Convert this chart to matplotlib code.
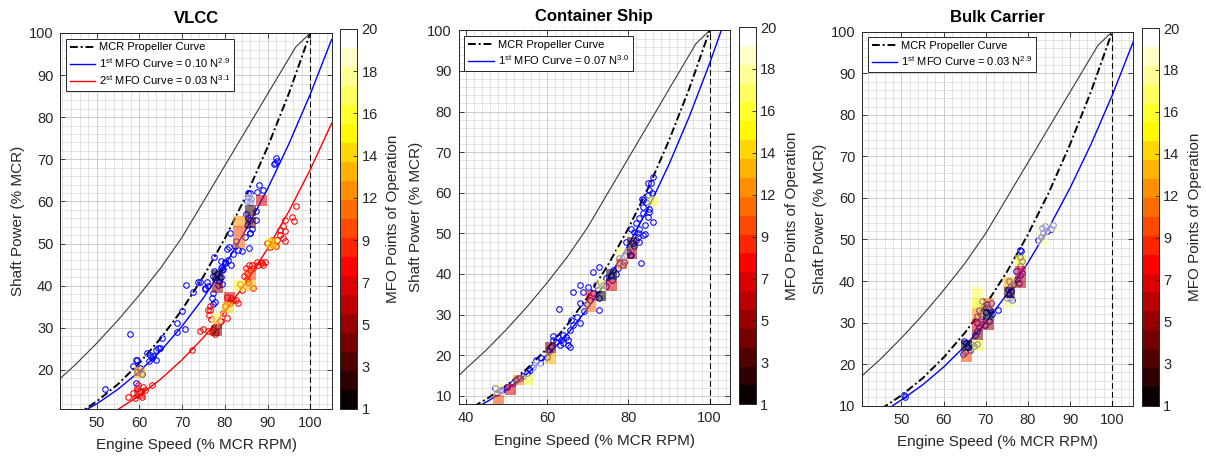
import numpy as np
import matplotlib
matplotlib.use('Agg')
import matplotlib.pyplot as plt
from matplotlib.patches import Rectangle
from matplotlib.collections import PatchCollection
from matplotlib.colors import Normalize
from matplotlib.cm import ScalarMappable
from matplotlib.ticker import MultipleLocator

plt.rcParams['font.family'] = ['Liberation Sans', 'DejaVu Sans']
plt.rcParams['mathtext.fontset'] = 'custom'
plt.rcParams['mathtext.rm'] = 'Liberation Sans'
plt.rcParams['mathtext.it'] = 'Liberation Sans:italic'

# engine envelope (grey) and MCR propeller curve, shared by all panels
env_n = [38.3, 40, 45, 50, 55, 60, 65, 70, 75, 80, 85, 90, 96.6, 100, 105]
env_p = [14.9, 16.6, 21.2, 26.3, 31.8, 37.8, 44.2, 51.5, 60.0, 68.5, 77.0, 85.5, 96.7, 100, 100]
mcr_n = [42, 45, 50, 55, 60, 65, 70, 75, 80, 85, 90, 95, 100]
mcr_p = [7.4, 9.1, 12.5, 16.6, 21.6, 27.5, 34.3, 42.2, 51.2, 61.4, 72.9, 85.7, 100]

# ---- VLCC ----
vlcc_mfo1_n = [47, 50, 55, 60, 65, 70, 75, 80, 85, 90, 95, 100, 105]
vlcc_mfo1_p = [10.2, 11.9, 15.4, 19.6, 24.5, 30.4, 37.1, 44.8, 53.4, 63.0, 73.7, 85.5, 98.5]
vlcc_mfo2_n = [55, 60, 65, 70, 75, 80, 85, 90, 95, 100, 105]
vlcc_mfo2_p = [10.6, 13.9, 17.8, 22.4, 27.7, 33.8, 40.8, 48.8, 57.7, 67.6, 78.6]

vlcc_pts1_n = [91.9, 92.2, 91.7, 91.4,
               88.0, 88.9, 87.5, 85.8, 85.4, 85.5, 85.2, 87.4, 87.2,
               86.2, 85.9,
               85.0, 85.5, 86.0, 85.2, 86.3, 85.8, 84.8, 86.0, 85.7,
               81.1, 81.0, 80.6, 81.9, 80.1, 81.5, 79.2, 79.4, 79.0, 79.5, 82.5, 83.0, 82.3, 83.9,
               77.5, 78.2, 79.0, 77.8, 78.6, 79.3, 77.3, 77.5,
               75.3, 76.1, 73.7, 79.4, 77.2, 76.9, 77.6, 77.2, 72.6, 70.8, 69.9, 70.6, 68.8, 68.9,
               74.1, 75.8, 75.3, 78.4, 78.8, 80.0, 80.8,
               65.3, 64.4, 64.0, 61.7, 62.5, 63.0, 63.8, 62.2, 64.8, 63.1,
               59.5, 59.1, 57.8, 52.0, 58.6, 60.2, 59.5, 60.5, 59.3]
vlcc_pts1_p = [70.4, 69.6, 69.2, 69.0,
               64.0, 62.7, 62.2, 61.9, 62.1, 61.0, 60.1, 57.8, 55.5,
               60.5, 59.8,
               57.0, 56.0, 55.5, 54.5, 53.5, 52.5, 51.5, 52.4, 49.0,
               52.4, 49.2, 48.6, 47.4, 45.4, 45.0, 45.8, 44.5, 44.1, 43.9, 50.5, 48.5, 49.5, 48.2,
               43.5, 42.8, 42.0, 41.5, 41.0, 43.6, 42.2, 46.8,
               39.4, 39.8, 40.9, 40.5, 38.2, 37.1, 36.2, 35.7, 38.4, 40.1, 34.0, 29.7, 29.1, 31.1,
               40.8, 40.8, 39.2, 40.2, 41.8, 45.5, 46.2,
               27.5, 25.1, 24.6, 24.1, 23.5, 22.8, 22.3, 22.0, 25.1, 23.2,
               22.4, 16.8, 28.6, 15.4, 20.8, 20.5, 19.5, 19.0, 22.4]
vlcc_pts2_n = [96.7, 95.8, 96.1, 94.0, 93.6, 92.8, 94.0, 92.8, 93.6, 92.1, 94.0, 91.3, 89.8, 90.5, 91.0, 92.0,
               85.1, 85.8, 86.6, 87.8, 88.6, 89.3, 88.9, 84.9, 85.6, 86.3, 87.5, 88.4, 84.5, 85.2, 83.5, 84.0, 86.5, 85.5,
               80.4, 81.5, 82.7, 83.1, 81.1, 80.0, 79.6, 80.4, 79.2, 81.9,
               76.1, 76.6, 74.1, 76.1, 76.9, 76.5, 76.4, 76.7, 74.9, 77.2, 78.4, 78.8, 78.0, 77.8,
               72.2,
               57.4, 58.6, 59.4, 60.1, 60.5, 58.9, 60.9, 59.7, 62.9, 61.3]
vlcc_pts2_p = [58.9, 56.2, 55.3, 55.7, 54.1, 53.3, 52.9, 52.1, 51.3, 50.9, 50.5, 49.7, 50.1, 49.2, 50.8, 49.5,
               43.0, 43.8, 44.2, 45.0, 45.4, 45.5, 45.0, 44.3, 44.8, 44.9, 45.6, 45.6, 42.3, 41.5, 40.5, 39.0, 39.5, 40.8,
               37.4, 37.1, 36.7, 35.9, 35.9, 35.1, 33.5, 32.3, 31.5, 36.5,
               34.3, 35.1, 29.3, 29.3, 29.1, 34.3, 33.1, 32.1, 29.7, 29.5, 30.3, 31.5, 29.0, 28.5,
               24.7,
               13.6, 14.4, 15.6, 14.8, 13.6, 13.2, 16.0, 16.4, 16.4, 15.2]
vlcc_bin_n = [88.5, 86.0, 85.9, 86.1, 83.3, 83.3, 83.3, 91.0, 78.2, 78.2, 81.0, 80.7, 78.1, 78.1, 83.3, 86.0, 86.0, 60.0, 60.0]
vlcc_bin_p = [60.2, 60.5, 57.8, 55.1, 55.3, 52.8, 50.3, 50.1, 42.4, 39.6, 37.2, 34.7, 32.1, 29.4, 40.0, 40.0, 42.6, 19.4, 14.3]
vlcc_bin_c = [7, 19, 2, 3, 12, 10, 11, 15, 1, 5, 7, 14, 17, 4, 16, 13, 10, 13, 7]

# ---- Container ship ----
cont_mfo_n = [43, 45, 50, 55, 60, 65, 70, 75, 80, 85, 90, 95, 100, 103]
cont_mfo_p = [7.3, 8.4, 11.5, 15.3, 19.9, 25.2, 31.5, 38.8, 47.1, 56.4, 67.0, 78.8, 91.9, 100.4]
cont_pts_n = [86.0, 85.6, 85.2, 85.9, 84.8, 83.5, 84.4, 83.5, 84.8, 83.4,
              86.0, 84.8, 85.2, 83.5, 82.7, 81.9, 82.7, 81.5, 80.7,
              84.0, 82.3, 81.1, 80.3, 83.5, 82.7, 81.9, 80.7, 79.5,
              83.1, 79.5, 77.8, 78.6, 77.4, 76.2, 75.8, 74.6, 73.7, 72.5, 71.3,
              72.9, 72.1, 70.1, 68.8, 71.3, 72.9, 72.9, 68.0, 66.4, 68.0,
              62.9, 61.5, 62.7, 63.9, 64.8, 63.5, 65.2, 62.3, 63.9, 65.2, 65.6, 61.5, 63.1,
              66.0, 66.4, 65.6, 68.0,
              59.9, 58.6, 57.4, 58.2, 56.6, 55.8, 55.0, 54.1, 53.3, 52.5, 51.7, 50.1, 48.4, 47.6, 47.2, 49.0, 60.5, 61.0,
              69.0, 69.8, 67.5, 70.5, 74.5, 76.0, 77.0, 79.0, 80.0, 81.5, 82.5, 84.0, 85.0]
cont_pts_p = [64.0, 62.3, 60.7, 59.9, 59.5, 58.2, 57.8, 56.6, 62.5, 58.4,
              52.9, 54.1, 55.3, 54.9, 53.7, 52.5, 51.2, 50.4, 51.2,
              49.8, 49.2, 47.6, 44.7, 49.6, 47.9, 48.4, 44.7, 47.9,
              42.6, 44.7, 43.9, 42.2, 41.4, 41.0, 39.8, 39.0, 37.3, 36.1, 35.2,
              34.0, 37.3, 36.9, 35.6, 40.6, 41.8, 31.1, 37.3, 35.6, 32.8,
              31.4, 24.7, 24.5, 24.9, 24.4, 23.7, 23.7, 23.3, 22.9, 22.5, 22.1, 23.7, 22.5,
              28.7, 27.4, 26.2, 27.9,
              19.6, 19.2, 18.8, 18.0, 17.2, 16.4, 15.6, 14.8, 14.3, 13.9, 13.1, 12.2, 11.4, 10.6, 12.0, 11.5, 21.0, 22.0,
              31.0, 32.5, 29.5, 33.5, 37.0, 38.5, 40.0, 43.0, 45.5, 47.0, 50.0, 52.0, 56.0]
cont_bin_n = [85.9, 80.9, 80.9, 78.3, 78.3, 75.8, 75.8, 73.3, 73.3, 70.8, 70.8, 60.8, 60.8, 55.6, 53.0, 57.8, 51.0, 48.1, 48.1]
cont_bin_p = [58.0, 47.7, 45.1, 45.1, 42.5, 39.9, 37.2, 37.2, 34.6, 34.6, 32.0, 21.9, 19.2, 13.9, 13.9, 17.2, 11.6, 11.6, 9.0]
cont_bin_c = [16, 2, 5, 18, 11, 1, 7, 17, 1, 7, 11, 4, 13, 16, 11, 20, 7, 18, 10]

# ---- Bulk carrier ----
bulk_mfo_n = [47.9, 50, 55, 60, 65, 70, 75, 80, 85, 90, 95, 100, 105]
bulk_mfo_p = [10.0, 11.4, 15.0, 19.3, 24.3, 30.1, 36.8, 44.4, 52.9, 62.4, 73.0, 84.7, 97.6]
bulk_pts_n = [50.6, 50.9,
              64.8, 65.3, 65.8, 66.2, 65.0, 64.6, 66.4, 67.9, 67.3,
              67.5, 68.0, 68.4, 67.8, 68.8, 69.2, 70.0, 70.5, 69.5, 70.2, 71.0, 71.5, 70.8, 69.8, 68.5, 67.8, 71.2, 69.0,
              72.9,
              75.0, 75.5, 76.0, 75.8, 76.5, 75.2, 76.2, 75.6, 75.7,
              77.5, 78.0, 77.2, 78.2, 78.5, 78.0, 77.8, 78.6, 78.2, 78.4,
              82.5, 83.0, 83.5, 83.3, 84.0, 85.5, 86.0, 84.5]
bulk_pts_p = [12.6, 12.2,
              25.5, 25.0, 24.2, 23.5, 23.0, 22.5, 24.8, 24.8, 24.3,
              27.0, 28.0, 29.0, 30.0, 30.8, 31.5, 32.5, 33.5, 34.0, 34.5, 33.0, 32.0, 30.5, 29.5, 33.0, 31.5, 34.8, 35.2,
              33.0,
              36.0, 36.8, 37.5, 38.5, 39.2, 38.0, 35.5, 40.0, 35.8,
              40.5, 41.5, 42.5, 43.5, 44.8, 45.8, 39.5, 42.0, 47.4, 47.2,
              49.8, 50.5, 51.5, 52.8, 53.2, 52.6, 53.5, 52.0]
bulk_bin_n = [65.5, 65.5, 68.1, 68.1, 68.1, 68.1, 68.1, 68.1, 70.7, 70.7, 70.7, 75.6, 75.6, 75.6, 78.3, 78.3, 78.3, 83.4, 83.4, 86.0]
bulk_bin_p = [24.4, 21.8, 37.3, 34.7, 32.2, 29.6, 27.0, 24.4, 34.6, 32.0, 29.4, 39.7, 37.2, 34.7, 44.9, 42.3, 39.7, 52.6, 50.0, 53.0]
bulk_bin_c = [1, 10, 17, 15, 12, 7, 4, 16, 11, 1, 5, 13, 2, 18, 15, 8, 6, 19, 18, 19]

cmap = plt.get_cmap('hot').resampled(20)
norm = Normalize(1, 20)
txt = '#262626'


def draw_panel(ax, cax, title, xlim, ylim, xticks, yticks, mfo_curves, point_sets, bins, legend_labels):
    ax.set_axisbelow(True)
    ax.plot(env_n, env_p, color='#3a3a3a', lw=0.8)
    ax.axvline(100, color='k', lw=0.8, ls=(0, (5, 3)))
    h_mcr, = ax.plot(mcr_n, mcr_p, color='k', lw=1.4, ls=(0, (4, 1.5, 1, 1.5)))
    handles = [h_mcr]
    for (n, p), col in mfo_curves:
        h, = ax.plot(n, p, color=col, lw=1.0)
        handles.append(h)
    for (n, p), col in point_sets:
        ax.plot(n, p, 'o', ms=4.0, mfc='none', mec=col, mew=0.75)
    # binned operating points drawn over the circles
    bn, bp, bc = bins
    rects = [Rectangle((x - 1.3, y - 1.3), 2.6, 2.6) for x, y in zip(bn, bp)]
    pc = PatchCollection(rects, cmap=cmap, norm=norm, alpha=0.55, edgecolor='none', zorder=3)
    pc.set_array(np.array(bc, dtype=float))
    ax.add_collection(pc)

    ax.set_xlim(xlim)
    ax.set_ylim(ylim)
    ax.set_xticks(xticks)
    ax.set_yticks(yticks)
    ax.xaxis.set_minor_locator(MultipleLocator(2))
    ax.yaxis.set_minor_locator(MultipleLocator(2))
    ax.grid(which='major', color='#c4c4c4', lw=0.6)
    ax.grid(which='minor', color='#dedede', lw=0.6)
    ax.tick_params(which='major', direction='in', top=True, right=True, length=3.5,
                   width=0.6, labelsize=10.5, colors=txt, pad=5)
    ax.tick_params(which='minor', length=0)
    for s in ax.spines.values():
        s.set_color(txt)
        s.set_linewidth(0.7)
    ax.set_title(title, fontsize=12, fontweight='bold', color='k', pad=7)
    ax.set_xlabel('Engine Speed (% MCR RPM)', fontsize=11, color=txt, labelpad=6)
    ax.set_ylabel('Shaft Power (% MCR)', fontsize=11, color=txt, labelpad=3)
    leg = ax.legend(handles, legend_labels, loc='upper left', fontsize=8.0, handlelength=2.3,
                    borderpad=0.35, labelspacing=0.3, handletextpad=0.35, borderaxespad=0.5,
                    fancybox=False, framealpha=1)
    leg.get_frame().set_edgecolor(txt)
    leg.get_frame().set_linewidth(0.7)
    leg.set_zorder(5)

    sm = ScalarMappable(norm=norm, cmap=cmap)
    cb = plt.colorbar(sm, cax=cax, ticks=np.linspace(1, 20, 10))
    cb.set_ticklabels([f'{t:.0f}' for t in np.linspace(1, 20, 10)])
    cb.ax.tick_params(direction='in', length=3, width=0.6, labelsize=10.5, colors=txt)
    cb.outline.set_edgecolor(txt)
    cb.outline.set_linewidth(0.7)
    cb.set_label('MFO Points of Operation', fontsize=11, color=txt, labelpad=6)


fig = plt.figure(figsize=(12.06, 4.59), dpi=100)
W, H = 1206, 459


def box(l, r, t, b):
    return [l / W, (H - b) / H, (r - l) / W, (b - t) / H]


ax1 = fig.add_axes(box(60.3, 331.7, 33, 409))
cax1 = fig.add_axes(box(340, 356.7, 29, 409))
ax2 = fig.add_axes(box(458.7, 730, 30.4, 404.3))
cax2 = fig.add_axes(box(739, 755.5, 27, 404.3))
ax3 = fig.add_axes(box(862.3, 1133.3, 31.7, 405.7))
cax3 = fig.add_axes(box(1142.3, 1158.5, 28, 405.7))

draw_panel(ax1, cax1, 'VLCC', (41.5, 105), (10.7, 100), range(50, 101, 10), range(20, 101, 10),
           [((vlcc_mfo1_n, vlcc_mfo1_p), 'b'), ((vlcc_mfo2_n, vlcc_mfo2_p), 'r')],
           [((vlcc_pts1_n, vlcc_pts1_p), 'b'), ((vlcc_pts2_n, vlcc_pts2_p), 'r')],
           (vlcc_bin_n, vlcc_bin_p, vlcc_bin_c),
           ['MCR Propeller Curve', r'1$^{\mathrm{st}}$ MFO Curve = 0.10 N$^{2.9}$',
            r'2$^{\mathrm{st}}$ MFO Curve = 0.03 N$^{3.1}$'])
draw_panel(ax2, cax2, 'Container Ship', (38.3, 105), (7.9, 100), range(40, 101, 20), range(10, 101, 10),
           [((cont_mfo_n, cont_mfo_p), 'b')],
           [((cont_pts_n, cont_pts_p), 'b')],
           (cont_bin_n, cont_bin_p, cont_bin_c),
           ['MCR Propeller Curve', r'1$^{\mathrm{st}}$ MFO Curve = 0.07 N$^{3.0}$'])
draw_panel(ax3, cax3, 'Bulk Carrier', (40.7, 105), (10, 100), range(50, 101, 10), range(10, 101, 10),
           [((bulk_mfo_n, bulk_mfo_p), 'b')],
           [((bulk_pts_n, bulk_pts_p), 'b')],
           (bulk_bin_n, bulk_bin_p, bulk_bin_c),
           ['MCR Propeller Curve', r'1$^{\mathrm{st}}$ MFO Curve = 0.03 N$^{2.9}$'])

fig.savefig('out.png', dpi=100, facecolor='white')
